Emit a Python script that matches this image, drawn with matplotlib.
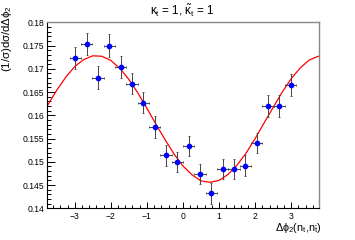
import numpy as np
import matplotlib
matplotlib.use('Agg')
import matplotlib.pyplot as plt
from matplotlib.ticker import AutoMinorLocator, FormatStrFormatter

plt.rcParams['font.family'] = ['Liberation Sans', 'DejaVu Sans']
plt.rcParams['mathtext.fontset'] = 'custom'
plt.rcParams['mathtext.rm'] = 'Liberation Sans'
plt.rcParams['mathtext.it'] = 'Liberation Sans'

# bin centres of delta phi_2 and the measured points
binCentres = [-2.985, -2.670, -2.356, -2.042, -1.728, -1.414, -1.100, -0.785, -0.471, -0.157,
              0.157, 0.471, 0.785, 1.100, 1.414, 1.728, 2.042, 2.356, 2.670, 2.985]
binHalfWidth = [0.157] * 20
dsigma = [0.1724, 0.1753, 0.1681, 0.1750, 0.1704, 0.1668, 0.1627, 0.1575, 0.1514, 0.1500,
          0.1534, 0.1474, 0.1432, 0.1484, 0.1484, 0.1492, 0.1541, 0.1620, 0.1620, 0.1665]
dsigmaErr = [0.0024, 0.0024, 0.0024, 0.0024, 0.0024, 0.0023, 0.0023, 0.0023, 0.0022, 0.0022,
             0.0022, 0.0022, 0.0022, 0.0022, 0.0022, 0.0022, 0.0022, 0.0023, 0.0023, 0.0023]

# fitted curve
fitX = [-4.0, -3.75, -3.5, -3.25, -3.0, -2.75, -2.5, -2.25, -2.0, -1.75, -1.5, -1.25, -1.0,
        -0.75, -0.5, -0.25, 0.0, 0.25, 0.5, 0.75, 1.0, 1.25, 1.5, 1.75, 2.0, 2.25, 2.5,
        2.75, 3.0, 3.25, 3.5, 3.75, 4.0]
fitY = [0.1588, 0.1622, 0.1654, 0.1682, 0.1705, 0.1720, 0.1728, 0.1727, 0.1718, 0.1701,
        0.1677, 0.1648, 0.1615, 0.1581, 0.1548, 0.1517, 0.1491, 0.1472, 0.1459, 0.1456,
        0.1460, 0.1473, 0.1493, 0.1519, 0.1550, 0.1584, 0.1617, 0.1650, 0.1679, 0.1702,
        0.1719, 0.1727, 0.1728]

xTicks = [-3, -2, -1, 0, 1, 2, 3]
yTicks = [0.14, 0.145, 0.15, 0.155, 0.16, 0.165, 0.17, 0.175, 0.18]

fig = plt.figure(figsize=(3.55, 2.4), dpi=100)
ax = fig.add_axes([0.1324, 0.132, 0.7662, 0.775])

ax.plot(fitX, fitY, color='#ff0000', lw=0.9, zorder=2)
ax.errorbar(binCentres, dsigma, xerr=binHalfWidth, yerr=dsigmaErr, fmt='none',
            ecolor='#444444', elinewidth=0.7, capsize=1.0, capthick=0.6, zorder=3)
ax.plot(binCentres, dsigma, 'o', color='#0000ff', markersize=3.1, zorder=4)

ax.set_xlim(-3.77, 3.77)
ax.set_ylim(0.14, 0.18)
ax.set_xticks(xTicks)
ax.set_yticks(yTicks)
ax.yaxis.set_major_formatter(FormatStrFormatter('%g'))
ax.xaxis.set_minor_locator(AutoMinorLocator(5))
ax.yaxis.set_minor_locator(AutoMinorLocator(5))
ax.tick_params(axis='both', which='both', direction='in', top=False, right=False,
               labelsize=6.2, width=0.7, color='black')
ax.tick_params(axis='y', which='major', length=5.8, pad=2.0)
ax.tick_params(axis='y', which='minor', length=2.9)
ax.tick_params(axis='x', which='major', length=4.1, pad=2.5)
ax.tick_params(axis='x', which='minor', length=2.0)

for side in ['left', 'bottom']:
    ax.spines[side].set_color('black')
    ax.spines[side].set_linewidth(0.8)
for side in ['top', 'right']:
    ax.spines[side].set_color('#888888')
    ax.spines[side].set_linewidth(1.0)

fig.text(0.512, 0.953, r'$\kappa_t$ = 1, $\tilde{\kappa}_t$ = 1', ha='center', va='center',
         fontsize=8.4)
fig.text(0.019, 0.979, r'(1/$\sigma$)d$\sigma$/d$\Delta\phi_2$', rotation=90, ha='center',
         va='top', fontsize=8.2)
fig.text(0.905, 0.05, r'$\Delta\phi_2$(n$_t$,n$_{\bar{t}}$)', ha='right', va='center',
         fontsize=7.8)

fig.savefig('out.png', dpi=100)
